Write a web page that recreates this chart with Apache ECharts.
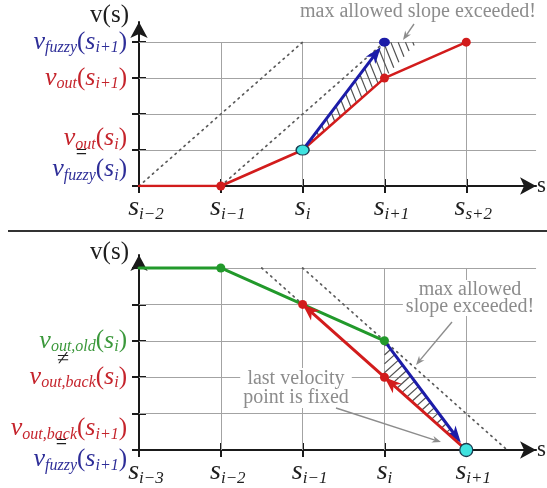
<!DOCTYPE html>
<html><head><meta charset="utf-8">
<script src="https://cdn.jsdelivr.net/npm/echarts@6/dist/echarts.min.js"></script>
<style>html,body{margin:0;padding:0;background:#fff}#c{width:547px;height:488px}</style>
</head><body><div id="c"></div>
<script>
// ---------------- data: top panel ----------------
const topXTicks = [0, 1, 2, 3, 4];
const topXSubs = ['i−2', 'i−1', 'i', 'i+1', 's+2'];
const topYTicks = [0, 1, 2, 3, 4];
const topYLabelAt = [1, 3, 4];
const topYLabelLines = [['#8', 'v_{out}(s_i)', '=T', 'v_{fuzzy}(s_i)'], ['v_{out}(s_{i+1})'], ['v_{fuzzy}(s_{i+1})']];
const topYLabelColors = [['K', 'R', 'K', 'B'], ['R'], ['B']];
const topSymAt = [];
const topSymText = [];
const topRed = [[0, 0], [1, 0], [2, 1], [3, 3], [4, 4]];
const topRedDots = [[1, 0], [3, 3], [4, 4]];
const topCyanDot = [[2, 1]];
const topBlueArrow = [[2, 1, 3, 4]];
const topBlueDot = [[3, 4]];
const topDotted1 = [[0, 0], [2, 4]];
const topDotted2 = [[1, 0], [3, 4]];
const topHatch = [[2, 1], [3, 4], [3.4, 4], [3, 3]];

// ---------------- data: bottom panel ----------------
const botXTicks = [0, 1, 2, 3, 4];
const botXSubs = ['i−3', 'i−2', 'i−1', 'i', 'i+1'];
const botYTicks = [0, 1, 2, 3, 4, 5];
const botYLabelAt = [0, 2, 3];
const botYLabelLines = [['v_{out,back}(s_{i+1})', '=B', 'v_{fuzzy}(s_{i+1})', '#12'], ['v_{out,back}(s_i)'], ['v_{out,old}(s_i)']];
const botYLabelColors = [['R', 'K', 'B', 'K'], ['R'], ['G']];
const botSymAt = [2.5];
const botSymText = ['≠'];
const botGreen = [[0, 5], [1, 5], [2, 4], [3, 3]];
const botGreenDots = [[1, 5], [3, 3]];
const botRedArrows = [[4, 0, 3, 2], [3, 2, 2, 4]];
const botRedDots = [[2, 4], [3, 2]];
const botBlueArrow = [[3, 3, 4, 0]];
const botCyanDot = [[4, 0]];
const botDotted1 = [[2, 5], [4.5, 0]];
const botDotted2 = [[1.5, 5], [2, 4]];
const botHatch = [[3, 3], [4, 0], [3, 2]];

// ---------------- styles ----------------
const SERIF = '"Liberation Serif","DejaVu Serif",serif';
const RED = '#d21c1c', BLUE = '#1c1ca8', GREEN = '#22992b', CYAN = '#3fe2df', AX = '#1a1a1a', GRID = '#a3a3a3', NOTE = '#8c8c8c';
const COL = {R: '#c5242c', B: '#2e2e98', G: '#3b983b', K: '#1e1e1e'};
const RICH = {};
for (const k in COL) {
  RICH[k + 'v'] = {fontFamily: SERIF, fontStyle: 'italic', fontSize: 26, color: COL[k], lineHeight: 18, verticalAlign: 'middle'};
  RICH[k + 'b'] = {fontFamily: SERIF, fontSize: 25, color: COL[k], lineHeight: 18, verticalAlign: 'middle'};
  RICH[k + 's'] = {fontFamily: SERIF, fontStyle: 'italic', fontSize: 16, color: COL[k], lineHeight: 6, height: 6, verticalAlign: 'bottom'};
}
RICH.Xv = {fontFamily: SERIF, fontStyle: 'italic', fontSize: 28, color: '#1e1e1e', lineHeight: 22, verticalAlign: 'middle'};
RICH.Xb = RICH.Xv;
RICH.Xs = {fontFamily: SERIF, fontStyle: 'italic', fontSize: 17, color: '#1e1e1e', lineHeight: 8, height: 8, verticalAlign: 'bottom'};
RICH.eqT = {fontFamily: SERIF, fontSize: 20, color: '#1e1e1e', lineHeight: 13, align: 'right', padding: [0, 40, 0, 0]};
RICH.eqB = {fontFamily: SERIF, fontSize: 20, color: '#1e1e1e', lineHeight: 13, align: 'right', padding: [0, 60, 0, 0]};
RICH.sp8 = {fontSize: 6, lineHeight: 8};
RICH.sp12 = {fontSize: 8, lineHeight: 12};
RICH.xsp = {fontSize: 8, width: 14};

function mathRich(str, c) {
  let out = '', i = 0;
  while (i < str.length) {
    const ch = str[i];
    if (ch === '_') {
      let sub;
      if (str[i + 1] === '{') { const j = str.indexOf('}', i); sub = str.slice(i + 2, j); i = j + 1; }
      else { sub = str[i + 1]; i += 2; }
      out += '{' + c + 's|' + sub + '}';
    } else if (ch === '(' || ch === ')') { out += '{' + c + 'b|' + ch + '}'; i++; }
    else { out += '{' + c + 'v|' + ch + '}'; i++; }
  }
  return out;
}
function yLabel(lines, colors) {
  return lines.map((t, i) => t[0] === '=' ? '{eq' + t.slice(1) + '|=}' : t[0] === '#' ? '{sp' + t.slice(1) + '| }' : mathRich(t, colors[i])).join('\n');
}
function xLabel(sub) {
  return (sub.length > 1 ? '{xsp| }' : '') + mathRich('s_{' + sub + '}', 'X');
}

// ---------------- axes ----------------
function xAxes(gi, xmax, ticks, subs, namePad) {
  return [{
    type: 'value', gridIndex: gi, position: 'bottom', min: 0, max: xmax,
    axisLine: {show: true, onZero: false, symbol: ['none', 'arrow'], symbolSize: [13, 16], lineStyle: {color: AX, width: 2}},
    axisTick: {show: true, customValues: ticks, length: 7, lineStyle: {color: AX, width: 2}},
    axisLabel: {show: true, customValues: ticks, margin: 11, hideOverlap: false, showMinLabel: true, showMaxLabel: true, rich: RICH,
      formatter: v => xLabel(subs[Math.round(v)])},
    splitLine: {show: false},
    name: 's', nameLocation: 'end', nameGap: 1,
    nameTextStyle: {fontFamily: SERIF, fontSize: 23, color: '#1e1e1e', align: 'left', verticalAlign: 'middle', padding: namePad}
  }, {
    type: 'value', gridIndex: gi, position: 'bottom', min: 0, max: xmax,
    axisLine: {show: false, onZero: false},
    axisTick: {show: true, inside: true, customValues: ticks, length: 7, lineStyle: {color: AX, width: 2}},
    axisLabel: {show: false}, splitLine: {show: false}
  }];
}
function yAxes(gi, ymax, ticks, labelAt, labelLines, labelColors, nameGap, symAt, symText) {
  return [{
    type: 'value', gridIndex: gi, position: 'left', min: 0, max: ymax,
    axisLine: {show: true, onZero: false, symbol: ['none', 'arrow'], symbolSize: [13, 16], lineStyle: {color: AX, width: 2}},
    axisTick: {show: true, customValues: ticks, length: 7, lineStyle: {color: AX, width: 2}},
    axisLabel: {show: true, customValues: labelAt, margin: 12, hideOverlap: false, showMinLabel: true, showMaxLabel: true, rich: RICH,
      formatter: v => { const i = labelAt.indexOf(Math.round(v)); return i < 0 ? '' : yLabel(labelLines[i], labelColors[i]); }},
    splitLine: {show: false},
    name: 'v(s)', nameLocation: 'end', nameGap: nameGap,
    nameTextStyle: {fontFamily: SERIF, fontSize: 25, color: '#1e1e1e', align: 'right', verticalAlign: 'middle', padding: [0, 10, 0, 0]}
  }, {
    type: 'value', gridIndex: gi, position: 'left', min: 0, max: ymax,
    axisLine: {show: false, onZero: false},
    axisTick: {show: true, inside: true, customValues: ticks, length: 7, lineStyle: {color: AX, width: 2}},
    axisLabel: {show: symAt.length > 0, customValues: symAt, margin: 70, fontFamily: SERIF, fontSize: 22, color: '#1e1e1e',
      formatter: v => { const i = symAt.findIndex(a => Math.abs(a - v) < 1e-6); return i < 0 ? '' : symText[i]; }},
    splitLine: {show: false}
  }];
}

// ---------------- series helpers ----------------
function gridSeries(xi, yi, xTicks, yTicks, xEnd) {
  const yTop = Math.max(...yTicks);
  const data = [];
  yTicks.filter(v => v > 0).forEach(v => data.push({coords: [[0, v], [xEnd, v]]}));
  xTicks.filter(v => v > 0).forEach(v => data.push({coords: [[v, 0], [v, yTop]]}));
  return {type: 'lines', coordinateSystem: 'cartesian2d', xAxisIndex: xi, yAxisIndex: yi, silent: true, z: 1,
    symbol: 'none', lineStyle: {color: GRID, width: 1, opacity: 1}, data};
}
function lineS(xi, yi, data, color, width, dotted, z) {
  return {type: 'line', xAxisIndex: xi, yAxisIndex: yi, data, symbol: 'none', silent: true, z,
    lineStyle: dotted ? {color: '#5a5a5a', width: 1.7, type: [1.4, 4.6], cap: 'round'} : {color, width, cap: 'round', join: 'round'}};
}
function dotS(xi, yi, data, color, size, border, z) {
  return {type: 'scatter', xAxisIndex: xi, yAxisIndex: yi, data, symbol: 'circle', symbolSize: size, silent: true, z: z || 8,
    itemStyle: {color, opacity: 1, borderColor: border || color, borderWidth: border ? 1.3 : 0}};
}
function arrowS(xi, yi, data, color, width, headLen, headW, gap, z) {
  return {type: 'custom', xAxisIndex: xi, yAxisIndex: yi, data, silent: true, z: z || 6,
    renderItem: function (params, api) {
      const p1 = api.coord([api.value(0), api.value(1)]);
      const p2 = api.coord([api.value(2), api.value(3)]);
      const dx = p2[0] - p1[0], dy = p2[1] - p1[1], L = Math.hypot(dx, dy);
      const ux = dx / L, uy = dy / L, nx = -uy, ny = ux;
      const tip = [p2[0] - ux * gap, p2[1] - uy * gap];
      const back = [tip[0] - ux * headLen, tip[1] - uy * headLen];
      const notch = [tip[0] - ux * headLen * 0.72, tip[1] - uy * headLen * 0.72];
      const end = gap > 0 ? notch : p2;
      return {type: 'group', children: [
        {type: 'line', shape: {x1: p1[0], y1: p1[1], x2: end[0], y2: end[1]}, style: {stroke: color, lineWidth: width, lineCap: 'round'}},
        {type: 'polygon', shape: {points: [tip, [back[0] + nx * headW / 2, back[1] + ny * headW / 2], notch, [back[0] - nx * headW / 2, back[1] - ny * headW / 2]]},
          style: {fill: color}}
      ]};
    }};
}
function hatchS(xi, yi, poly, angleDeg, spacing) {
  return {type: 'custom', xAxisIndex: xi, yAxisIndex: yi, data: [[poly[0][0], poly[0][1]]], silent: true, z: 2,
    renderItem: function (params, api) {
      const pts = poly.map(p => api.coord(p));
      const a = angleDeg * Math.PI / 180;
      const d = [Math.cos(a), Math.sin(a)], n = [-d[1], d[0]];
      const t = pts.map(p => p[0] * n[0] + p[1] * n[1]);
      const tmin = Math.min(...t), tmax = Math.max(...t);
      const children = [];
      for (let c = tmin + spacing * 0.6; c < tmax; c += spacing) {
        const hits = [];
        for (let i = 0; i < pts.length; i++) {
          const j = (i + 1) % pts.length, A = pts[i], B = pts[j];
          if ((t[i] - c) * (t[j] - c) <= 0 && t[i] !== t[j]) {
            const k = (c - t[i]) / (t[j] - t[i]);
            hits.push([A[0] + k * (B[0] - A[0]), A[1] + k * (B[1] - A[1])]);
          }
        }
        if (hits.length >= 2) {
          hits.sort((p, q) => (p[0] * d[0] + p[1] * d[1]) - (q[0] * d[0] + q[1] * d[1]));
          const P = hits[0], Q = hits[hits.length - 1];
          children.push({type: 'line', shape: {x1: P[0], y1: P[1], x2: Q[0], y2: Q[1]}, style: {stroke: '#505050', lineWidth: 1.2}});
        }
      }
      return {type: 'group', children};
    }};
}
function noteArrow(x1, y1, x2, y2) {
  const dx = x2 - x1, dy = y2 - y1, L = Math.hypot(dx, dy), ux = dx / L, uy = dy / L, nx = -uy, ny = ux;
  const hl = 9, hw = 7, bx = x2 - ux * hl, by = y2 - uy * hl;
  const nt = [x2 - ux * hl * 0.7, y2 - uy * hl * 0.7];
  return [
    {type: 'line', z: 100, shape: {x1, y1, x2: nt[0], y2: nt[1]}, style: {stroke: NOTE, lineWidth: 1.4}},
    {type: 'polygon', z: 100, shape: {points: [[x2, y2], [bx + nx * hw / 2, by + ny * hw / 2], nt, [bx - nx * hw / 2, by - ny * hw / 2]]}, style: {fill: NOTE}}
  ];
}
function note(text, x, y, lh) {
  return {type: 'text', z: 100, x, y, style: {text, font: '20px ' + SERIF, fill: NOTE, align: 'center', verticalAlign: 'middle',
    lineHeight: lh, backgroundColor: '#fff', padding: [1, 3]}};
}

// ---------------- layout ----------------
const TOP_XMAX = 4.853, TOP_YMAX = 4.56, BOT_XMAX = 4.853, BOT_YMAX = 5.357;

const option = {
  animation: false,
  backgroundColor: '#fff',
  grid: [
    {left: 139, top: 22, width: 399, height: 164, containLabel: false},
    {left: 139, top: 255, width: 399, height: 195, containLabel: false}
  ],
  xAxis: [...xAxes(0, TOP_XMAX, topXTicks, topXSubs, [34, 0, 0, 0]), ...xAxes(1, BOT_XMAX, botXTicks, botXSubs, [8, 0, 0, 0])],
  yAxis: [...yAxes(0, TOP_YMAX, topYTicks, topYLabelAt, topYLabelLines, topYLabelColors, 7, topSymAt, topSymText),
          ...yAxes(1, BOT_YMAX, botYTicks, botYLabelAt, botYLabelLines, botYLabelColors, 3, botSymAt, botSymText)],
  series: [
    // top
    gridSeries(0, 0, topXTicks, topYTicks, TOP_XMAX),
    hatchS(0, 0, topHatch, 68, 6.8),
    lineS(0, 0, topDotted1, null, 0, true, 2),
    lineS(0, 0, topDotted2, null, 0, true, 2),
    lineS(0, 0, topRed, RED, 2.6, false, 4),
    arrowS(0, 0, topBlueArrow, BLUE, 3, 17, 12, 6, 6),
    dotS(0, 0, topRedDots, RED, 9),
    dotS(0, 0, topBlueDot, BLUE, [11, 9]),
    dotS(0, 0, topCyanDot, CYAN, [13, 10], '#1b3b50'),
    // bottom
    gridSeries(2, 2, botXTicks, botYTicks, BOT_XMAX),
    hatchS(2, 2, botHatch, -42, 6.6),
    lineS(2, 2, botDotted1, null, 0, true, 2),
    lineS(2, 2, botDotted2, null, 0, true, 2),
    lineS(2, 2, botGreen, GREEN, 3, false, 4),
    arrowS(2, 2, botBlueArrow, BLUE, 3, 17, 12, 9, 5),
    arrowS(2, 2, botRedArrows, RED, 3, 17, 13, 0, 6),
    dotS(2, 2, botGreenDots, GREEN, 9),
    dotS(2, 2, botRedDots, RED, 9),
    dotS(2, 2, botCyanDot, CYAN, 13, '#1b3b50')
  ],
  graphic: [
    {type: 'line', z: 100, shape: {x1: 8, y1: 231, x2: 547, y2: 231}, style: {stroke: '#333', lineWidth: 2}},
    note('max allowed slope exceeded!', 418, 12, 20),
    ...noteArrow(414, 24, 403, 40),
    note('max allowed\nslope exceeded!', 470, 298, 17),
    ...noteArrow(452, 322, 416, 365),
    note('last velocity\npoint is fixed', 296, 388, 19),
    ...noteArrow(336, 408, 441, 442)
  ]
};
const chart = echarts.init(document.getElementById('c'), null, {renderer: 'canvas'});
chart.setOption(option);
</script></body></html>
